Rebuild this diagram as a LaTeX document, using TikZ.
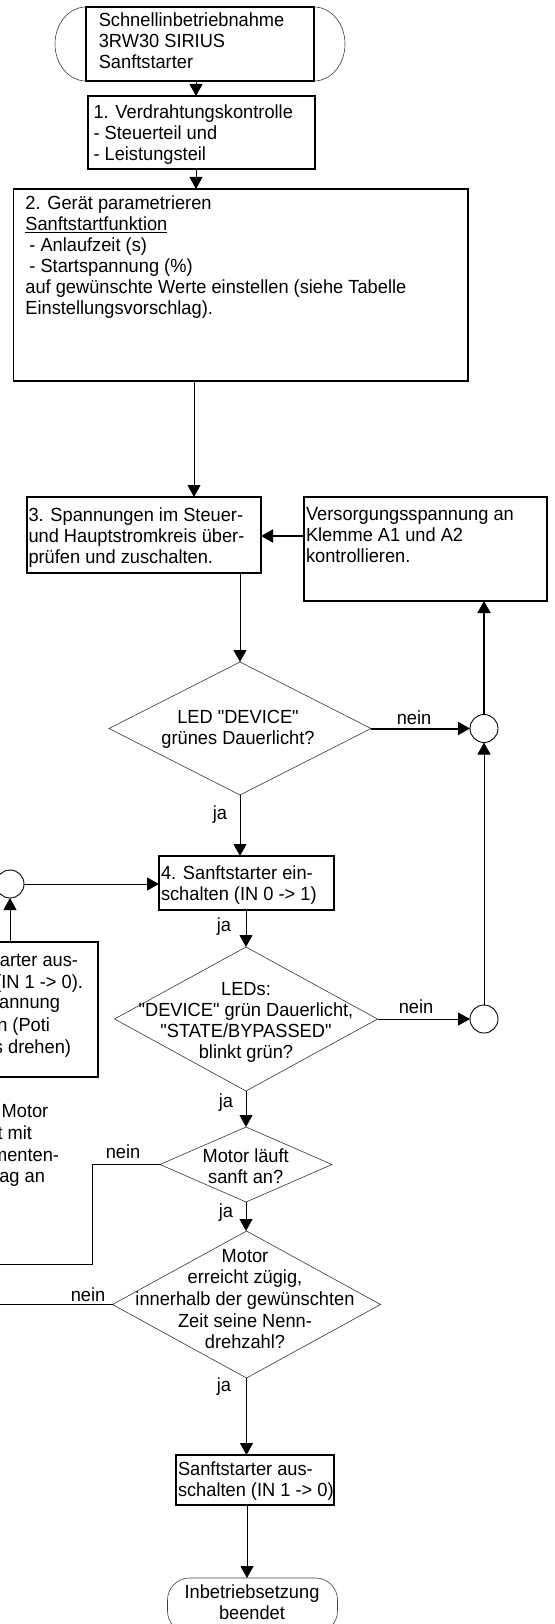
\documentclass[tikz,border=0pt]{standalone}
\usepackage{fontspec}
\newfontfamily\myfam{Liberation Sans}[FakeStretch=0.96]
\usetikzlibrary{arrows.meta,shapes.geometric,calc}
\newcommand\myfont{\fontsize{19}{21}\myfam\selectfont}
\begin{document}
\begin{tikzpicture}[x=1pt,y=-1pt,
  every node/.style={inner sep=0pt, outer sep=0pt},
  box/.style={draw, line width=1.1pt, rectangle},
  txt/.style={align=left, font=\myfont, anchor=north west},
  ctxt/.style={align=center, font=\myfont},
  lbl/.style={font=\myfont},
  frag/.style={font=\myfont, anchor=base east},
  dia/.style={draw=black!85, line width=0.55pt, shape=diamond},
  circ/.style={draw, circle, minimum size=28pt, line width=0.9pt},
  con/.style={line width=1pt, -{Triangle[length=12pt,width=13pt]}},
  tcon/.style={line width=2pt, -{Triangle[length=12pt,width=13pt]}},
  plain/.style={line width=1pt},
  thinarc/.style={draw=black!75, line width=0.6pt}
]
\useasboundingbox (0,0) rectangle (554,1624);

% helper coordinates
\coordinate (xa) at (196,0);
\coordinate (xb) at (194,0);
\coordinate (xe) at (247,0);
\coordinate (ya) at (0,536);
\coordinate (lft) at (-5,0);

% start terminator
\node[box, minimum width=228pt, minimum height=74pt] (start) at (200,44) {};
\draw[thinarc] (start.north west) arc[start angle=90, end angle=270, x radius=31pt, y radius=37pt];
\draw[thinarc] (start.north east) arc[start angle=90, end angle=-90, x radius=31pt, y radius=37pt];
\node[txt] (tstart) at (98.8,12.5) {Schnellinbetriebnahme\\3RW30 SIRIUS\\Sanftstarter};

% box 1
\node[box, minimum width=227pt, minimum height=73pt] (box1) at (201.5,132.5) {};
\node[txt] (t1) at (93.5,104.5) {1. Verdrahtungskontrolle\\- Steuerteil und\\- Leistungsteil};

% box 2
\node[box, minimum width=454.6pt, minimum height=192pt] (box2) at (240.7,285) {};
\node[txt] (t2) at (25.4,195.5) {2. Gerät parametrieren\\\underline{Sanftstartfunktion}\\\hspace*{4pt}- Anlaufzeit (s)\\\hspace*{4pt}- Startspannung (\%)\\auf gewünschte Werte einstellen (siehe Tabelle\\Einstellungsvorschlag).};

% box 3
\node[box, minimum width=234pt, minimum height=76pt] (box3) at (144,535) {};
\node[txt] (t3) at (28.5,507.5) {3. Spannungen im Steuer-\\und Hauptstromkreis über-\\prüfen und zuschalten.};

% right box
\node[box, minimum width=243pt, minimum height=104pt] (rbox) at (425.5,549) {};
\node[txt] (tr) at (306,507.5) {Versorgungsspannung an\\Klemme A1 und A2\\kontrollieren.};

% diamond 1
\node[dia, minimum width=262pt, minimum height=133pt] (d1) at (240,728.5) {};
\node[ctxt] (td1) at (238,729.5) {LED "DEVICE"\\grünes Dauerlicht?};

% circles
\node[circ] (c1) at (484,728.5) {};
\node[circ] (c2) at (484,1019) {};
\node[circ] (c3) at (10,884) {};

% box 4
\node[box, minimum width=175pt, minimum height=54pt] (box4) at (246.5,883) {};
\node[txt] (t4) at (161,865.5) {4. Sanftstarter ein-\\schalten (IN 0 -> 1)};

% left box (mostly off page)
\node[box, minimum width=248pt, minimum height=135pt] (lbox) at (-26,1009.5) {};
\node[frag] (f1) at (78,966.5) {arter aus-};
\node[frag] (f2) at (83,988.5) {(IN 1 -> 0).};
\node[frag] (f3) at (60,1008.5) {annung};
\node[frag] (f4) at (50,1031.5) {n (Poti};
\node[frag] (f5) at (71,1053.5) {s drehen)};

% motor text fragments
\node[frag] (g1) at (48.3,1117.5) {Motor};
\node[frag] (g2) at (32,1139.5) {t mit};
\node[frag] (g3) at (59,1161.5) {menten-};
\node[frag] (g4) at (45,1182.5) {ag an};

% diamond 2
\node[dia, minimum width=263pt, minimum height=144pt] (d2) at (246,1019) {};
\node[ctxt] (td2) at (246,1022.5) {LEDs:\\"DEVICE" grün Dauerlicht,\\"STATE/BYPASSED"\\blinkt grün?};

% diamond 3
\node[dia, minimum width=172pt, minimum height=75pt] (d3) at (246,1164.5) {};
\node[ctxt] (td3) at (245.7,1166.5) {Motor läuft\\sanft an?};

% diamond 4
\node[dia, minimum width=268pt, minimum height=147pt] (d4) at (246.5,1304.5) {};
\node[ctxt, font=\fontsize{19}{21.7}\myfam\selectfont] (td4) at (245,1299) {Motor\\erreicht zügig,\\innerhalb der gewünschten\\Zeit seine Nenn-\\drehzahl?};

% box 5
\node[box, minimum width=158pt, minimum height=50pt] (box5) at (255,1480) {};
\node[txt] (t5) at (178,1461.5) {Sanftstarter aus-\\schalten (IN 1 -> 0)};

% end terminator
\node[draw=black!75, line width=0.6pt, rectangle, rounded corners=22pt, minimum width=170pt, minimum height=55pt] (end) at (252.5,1605.5) {};
\node[ctxt] (tend) at (252,1602) {Inbetriebsetzung\\beendet};

% labels
\node[lbl] (n1) at (414,718) {nein};
\node[lbl] (n2) at (416,1007) {nein};
\node[lbl] (n3) at (123,1152) {nein};
\node[lbl] (n4) at (88,1295) {nein};
\node[lbl] (j1) at (220,815) {ja};
\node[lbl] (j2) at (224,927) {ja};
\node[lbl] (j3) at (226,1103) {ja};
\node[lbl] (j4) at (226,1213) {ja};
\node[lbl] (j5) at (224,1387) {ja};

% connectors
\draw[con] (start.south -| xa) -- (box1.north -| xa);
\draw[con] (box1.south -| xa) -- (box2.north -| xa);
\draw[con] (box2.south -| xb) -- (box3.north -| xb);
\draw[tcon] (rbox.west |- ya) -- (box3.east |- ya);
\draw[con] (box3.south -| d1.north) -- (d1.north);
\draw[tcon] (d1.east) -- (c1.west);
\draw[tcon] (c1.north) -- (c1.north |- rbox.south);
\draw[con] (c2.north) -- (c1.south);
\draw[con] (d1.south) -- (d1.south |- box4.north);
\draw[con] (c3.east) -- (c3.east -| box4.west);
\draw[con] (lbox.north -| c3) -- (c3.south);
\draw[con] (box4.south -| d2.north) -- (d2.north);
\draw[con] (d2.east) -- (c2.west);
\draw[con] (d2.south) -- (d3.north);
\coordinate (k1) at (92,1164.5);
\coordinate (k2) at (92,1264);
\coordinate (k3) at (-5,1264);
\draw[plain] (d3.west) -- (k1) -- (k2) -- (k3);
\draw[con] (d3.south) -- (d3.south |- d4.north);
\draw[plain] (d4.west) -- (d4.west -| lft);
\draw[con] (d4.south) -- (d4.south |- box5.north);
\draw[con] (box5.south -| xe) -- (end.north -| xe);
\end{tikzpicture}
\end{document}
